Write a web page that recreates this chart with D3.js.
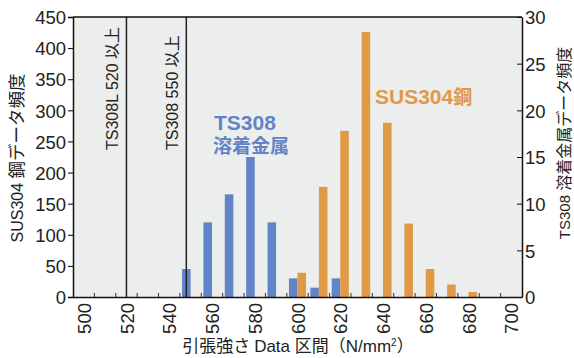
<!DOCTYPE html>
<html>
<head>
<meta charset="utf-8">
<script src="https://cdn.jsdelivr.net/npm/d3@7"></script>
<style>
body{margin:0;background:#fff;}
svg text{font-family:"Liberation Sans","Noto Sans CJK JP",sans-serif;fill:#222;}
.cjk{font-family:"Noto Sans CJK JP",sans-serif;}
</style>
</head>
<body>
<svg id="chart" width="574" height="358"></svg>
<script>
// データ
var bins = [550, 560, 570, 580, 590, 600, 610, 620, 630, 640, 650, 660, 670, 680];
var ts308 = [3, 8, 11, 15, 8, 2, 1, 2, 0, 0, 0, 0, 0, 0];          // 右軸
var sus304 = [0, 0, 0, 0, 0, 39, 177, 267, 426, 280, 118, 45, 20, 8]; // 左軸
var xTicks = [500, 520, 540, 560, 580, 600, 620, 640, 660, 680, 700];
var leftTicks = [0, 50, 100, 150, 200, 250, 300, 350, 400, 450];
var rightTicks = [0, 5, 10, 15, 20, 25, 30];
var limits = [{v: 520, label: "TS308L 520 以上"}, {v: 548, label: "TS308 550 以上"}];

var blue = "#6283c5", orange = "#e09944";
var L = 73, R = 522, T = 17, B = 297;

var svg = d3.select("#chart");
var x = d3.scaleLinear().domain([495, 705]).range([L, R]);
var yl = d3.scaleLinear().domain([0, 450]).range([B, T]);
var yr = d3.scaleLinear().domain([0, 30]).range([B, T]);

svg.append("rect").attr("x", L).attr("y", T).attr("width", R - L).attr("height", B - T)
    .attr("fill", "#eceeee");

// 棒グラフ
var g = svg.append("g");
g.selectAll(".b").data(bins).enter().append("rect")
    .attr("x", function(d){ return x(d - 4); })
    .attr("width", function(d){ return x(d) - x(d - 4); })
    .attr("y", function(d, i){ return yr(ts308[i]); })
    .attr("height", function(d, i){ return B - yr(ts308[i]); })
    .attr("fill", blue);
g.selectAll(".o").data(bins).enter().append("rect")
    .attr("x", function(d){ return x(d); })
    .attr("width", function(d){ return x(d + 4) - x(d); })
    .attr("y", function(d, i){ return yl(sus304[i]); })
    .attr("height", function(d, i){ return B - yl(sus304[i]); })
    .attr("fill", orange);

// 区間の目盛
var minor = d3.range(505, 700, 10);
svg.selectAll(".mt").data(minor).enter().append("line")
    .attr("x1", function(d){ return x(d); }).attr("x2", function(d){ return x(d); })
    .attr("y1", B).attr("y2", B - 4)
    .attr("stroke", "#333").attr("stroke-width", 1);

// 規格線
svg.selectAll(".lim").data(limits).enter().append("line")
    .attr("x1", function(d){ return x(d.v); }).attr("x2", function(d){ return x(d.v); })
    .attr("y1", T).attr("y2", B)
    .attr("stroke", "#222").attr("stroke-width", 1.5);
svg.selectAll(".limt").data(limits).enter().append("text")
    .attr("transform", function(d){ return "translate(" + (x(d.v) - 8) + ",150) rotate(-90)"; })
    .attr("font-size", "16px")
    .text(function(d){ return d.label; });

// 枠
svg.append("line").attr("x1", L).attr("x2", R).attr("y1", T).attr("y2", T).attr("stroke", "#111").attr("stroke-width", 1.5);

// 左軸
var la = svg.append("g").attr("transform", "translate(" + L + ",0)")
    .call(d3.axisLeft(yl).tickValues(leftTicks).tickSize(5).tickPadding(2));
la.select(".domain").attr("stroke", "#111").attr("stroke-width", 1.5);
la.selectAll("text").attr("font-size", "18.5px").attr("fill", "#222").attr("dy", "0.36em");

// 右軸 (内向き目盛)
var ra = svg.append("g").attr("transform", "translate(" + R + ",0)")
    .call(d3.axisRight(yr).tickValues(rightTicks).tickSize(0).tickPadding(3));
ra.select(".domain").attr("stroke", "#111").attr("stroke-width", 1.5);
ra.selectAll(".tick line").attr("x2", -5).attr("stroke", "#111");
ra.selectAll("text").attr("font-size", "18.5px").attr("fill", "#222").attr("dy", "0.36em");

// 下軸
var ba = svg.append("g").attr("transform", "translate(0," + B + ")")
    .call(d3.axisBottom(x).tickValues(xTicks).tickSize(0).tickPadding(0));
ba.select(".domain").attr("stroke", "#111").attr("stroke-width", 1.5);
ba.selectAll("text").attr("font-size", "18.5px").attr("fill", "#222")
    .attr("text-anchor", "end")
    .attr("transform", "translate(0,6) rotate(-90)")
    .attr("x", 0).attr("y", 0).attr("dy", "0.36em");

// 軸タイトル
function title(sel, latin, cjk, s1, s2) {
    sel.append("tspan").attr("font-size", s1).text(latin);
    sel.append("tspan").attr("class", "cjk").attr("font-size", s2).text(cjk);
}
title(svg.append("text").attr("transform", "translate(23,158) rotate(-90)")
    .attr("text-anchor", "middle"), "SUS304 ", "鋼データ頻度", "16px", "17.5px");
title(svg.append("text").attr("transform", "translate(570,143) rotate(-90)")
    .attr("text-anchor", "middle"), "TS308 ", "溶着金属データ頻度", "15px", "16px");
var xt = svg.append("text").attr("x", 298).attr("y", 352)
    .attr("text-anchor", "middle").attr("font-size", "17px");
xt.append("tspan").attr("class", "cjk").text("引張強さ ");
xt.append("tspan").text("Data ");
xt.append("tspan").attr("class", "cjk").text("区間（");
xt.append("tspan").text("N/mm");
xt.append("tspan").attr("font-size", "10px").attr("dy", "-6").text("2");
xt.append("tspan").attr("class", "cjk").attr("dy", "6").text("）");

// 凡例ラベル
svg.append("text").attr("x", 214).attr("y", 130).attr("font-size", "21px")
    .attr("font-weight", "bold").style("fill", blue).text("TS308");
svg.append("text").attr("class", "cjk").attr("x", 213).attr("y", 153).attr("font-size", "19px")
    .attr("font-weight", "bold").style("fill", blue).text("溶着金属");
var st = svg.append("text").attr("x", 375).attr("y", 104).attr("font-weight", "bold").style("fill", orange);
st.append("tspan").attr("font-size", "21px").text("SUS304");
st.append("tspan").attr("class", "cjk").attr("font-size", "19px").text("鋼");
</script>
</body>
</html>
